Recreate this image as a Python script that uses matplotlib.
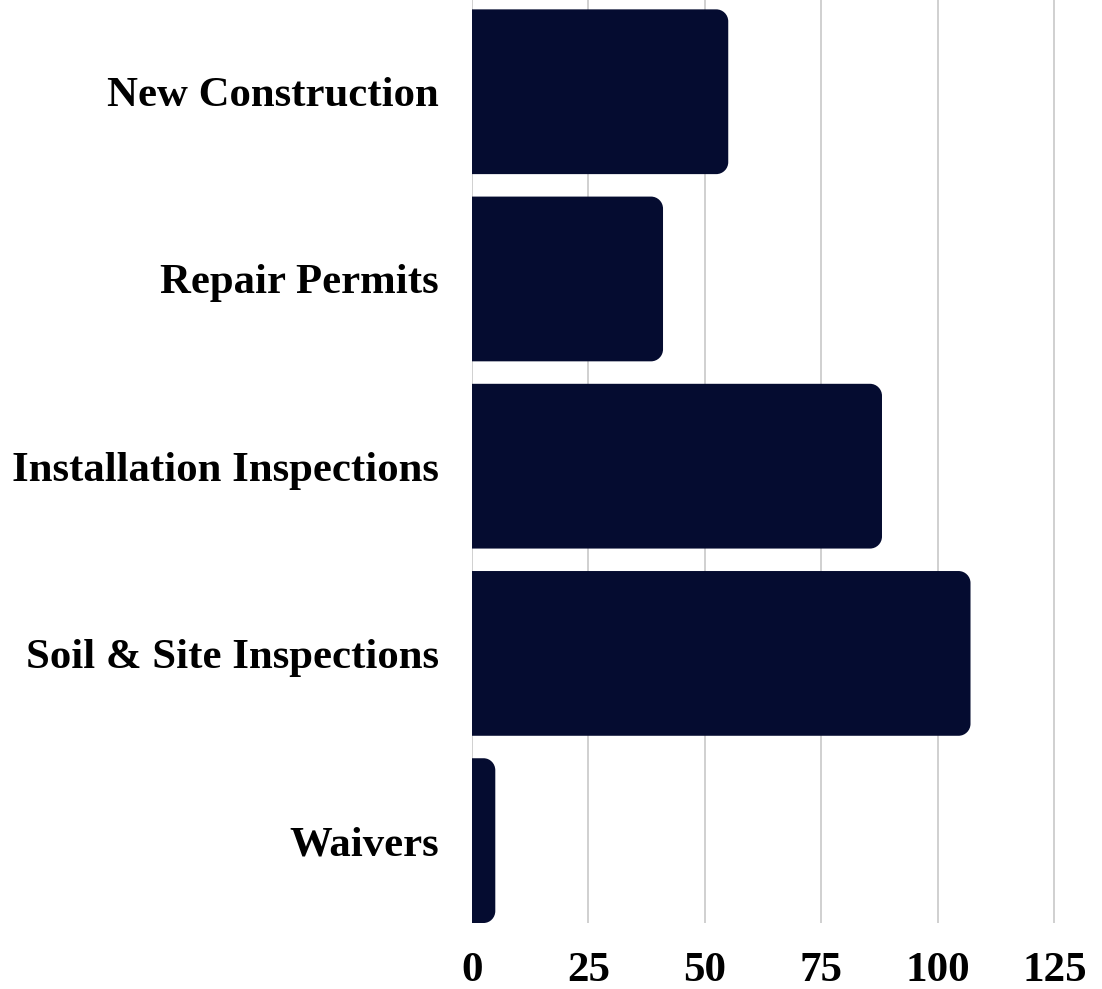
import matplotlib
matplotlib.use("Agg")
import matplotlib.pyplot as plt
from matplotlib.path import Path
from matplotlib.patches import PathPatch

categories = ["New Construction", "Repair Permits", "Installation Inspections",
              "Soil & Site Inspections", "Waivers"]
values = [55, 41, 88, 107, 5]
xticks = [0, 25, 50, 75, 100, 125]

BAR_COLOR = "#050c30"
W, H, DPI = 1102, 989, 100
fig = plt.figure(figsize=(W / DPI, H / DPI), dpi=DPI)
left, right, bottom, top = 472 / W, 1080 / W, (H - 923) / H, 1.0
ax = fig.add_axes([left, bottom, right - left, top - bottom])

bar_h = 0.88
ax.set_xlim(0, 130.5)
ax.set_ylim(4 + bar_h / 2, -bar_h / 2 - 0.05)

ypos = list(range(len(categories)))
bars = ax.barh(ypos, values, height=bar_h, color=BAR_COLOR)

fig.canvas.draw()
# pixel->data scale for rounded corners
ax_bbox = ax.get_window_extent()
x0, x1 = ax.get_xlim()
y0, y1 = ax.get_ylim()
px_per_x = ax_bbox.width / (x1 - x0)
px_per_y = ax_bbox.height / abs(y1 - y0)
r_px = 12
for rect in bars:
    rect.set_visible(False)
    bx, by = rect.get_x(), rect.get_y()
    bw, bh = rect.get_width(), rect.get_height()
    rx = min(r_px / px_per_x, bw / 2)
    ry = r_px / px_per_y
    k = 0.5523
    xl, xr = bx, bx + bw
    yb, yt = by, by + bh
    verts = [
        (xl, yb), (xr - rx, yb),
        (xr - rx + k * rx, yb), (xr, yb + ry - k * ry), (xr, yb + ry),
        (xr, yt - ry),
        (xr, yt - ry + k * ry), (xr - rx + k * rx, yt), (xr - rx, yt),
        (xl, yt), (xl, yb),
    ]
    codes = [Path.MOVETO, Path.LINETO,
             Path.CURVE4, Path.CURVE4, Path.CURVE4,
             Path.LINETO,
             Path.CURVE4, Path.CURVE4, Path.CURVE4,
             Path.LINETO, Path.CLOSEPOLY]
    ax.add_patch(PathPatch(Path(verts, codes), facecolor=BAR_COLOR,
                           edgecolor="none", zorder=3))

ax.set_yticks(ypos)
ax.set_yticklabels(categories)
ax.set_xticks(xticks)
ax.set_xticklabels([str(t) for t in xticks])
fam = ["Liberation Serif", "DejaVu Serif"]
for lab in ax.get_yticklabels():
    lab.set_fontfamily(fam)
    lab.set_fontweight("bold")
    lab.set_fontsize(30.8)
for lab in ax.get_xticklabels():
    lab.set_fontfamily(fam)
    lab.set_fontweight("bold")
    lab.set_fontsize(31)
ax.tick_params(axis="y", length=0, pad=24)
ax.tick_params(axis="x", length=0, pad=21)
ax.grid(axis="x", color="#c8c8c8", linewidth=1.2, zorder=0)
ax.set_axisbelow(True)
for s in ax.spines.values():
    s.set_visible(False)

fig.savefig("out.png", dpi=DPI)
